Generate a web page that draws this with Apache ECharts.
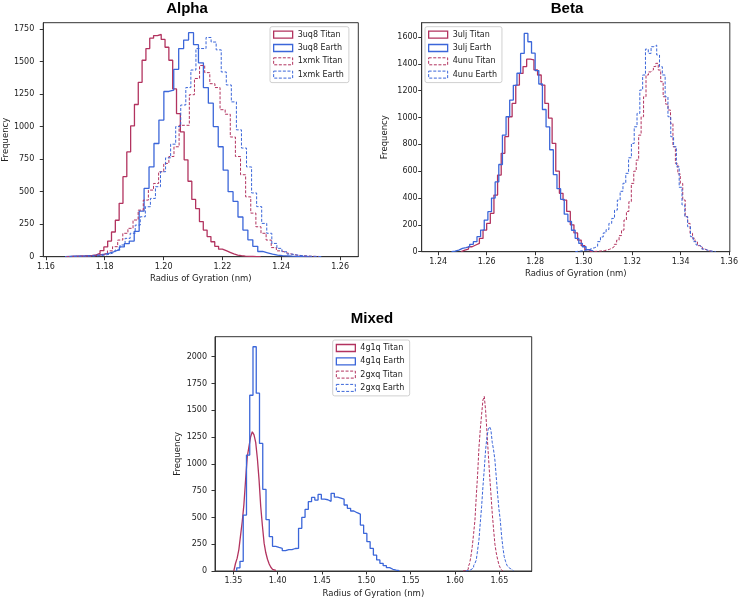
<!DOCTYPE html>
<html>
<head>
<meta charset="utf-8">
<script src="https://cdn.jsdelivr.net/npm/echarts@6/dist/echarts.min.js"></script>
<style>
  html, body { margin: 0; padding: 0; background: #fff; }
  #chart { width: 741px; height: 600px; }
</style>
</head>
<body>
<div id="chart"></div>
<script>
// histogram counts, one value per bin; ranges are [first edge, last edge]
// --- Alpha ---
const uq8TitanRange = [1.168, 1.233];
const uq8TitanCounts = [2, 3, 4, 5, 7, 10, 14, 25, 46, 75, 120, 190, 280, 410, 615, 805, 1005, 1170, 1340, 1510,
  1600, 1680, 1700, 1708, 1670, 1610, 1510, 1290, 1100, 960, 745, 580, 440, 370, 270, 205, 155, 115, 80, 58,
  46, 34, 22, 12, 8, 5, 3, 2, 1, 1];
const uq8EarthRange = [1.1665, 1.2505];
const uq8EarthCounts = [3, 4, 5, 6, 8, 10, 14, 20, 28, 40, 55, 75, 100, 120, 195, 350, 525, 690, 870, 1050,
  1270, 1280, 1440, 1600, 1665, 1722, 1630, 1490, 1300, 1180, 1000, 845, 665, 500, 425, 305, 205, 130, 80, 40,
  30, 20, 12, 8, 6, 4, 3, 2, 1, 1];
const xmkTitanRange = [1.167, 1.254];
const xmkTitanCounts = [2, 3, 4, 5, 7, 10, 15, 25, 45, 77, 128, 180, 218, 282, 358, 435, 512, 563, 653, 717,
  770, 845, 1010, 1010, 1245, 1370, 1470, 1415, 1330, 1300, 1130, 1095, 920, 770, 630, 460, 335, 230, 180, 128,
  70, 45, 30, 20, 12, 8, 5, 3, 2, 1];
const xmkEarthRange = [1.168, 1.254];
const xmkEarthCounts = [2, 3, 3, 4, 5, 8, 12, 20, 35, 51, 90, 141, 180, 243, 307, 384, 448, 538, 653, 760,
  865, 1000, 1166, 1300, 1435, 1600, 1600, 1685, 1650, 1590, 1420, 1320, 1190, 975, 835, 690, 490, 385, 256, 180,
  102, 64, 38, 20, 13, 8, 5, 3, 2, 1];
// --- Beta ---
const uljTitanRange = [1.2495, 1.3035];
const uljTitanCounts = [12, 20, 37, 50, 62, 99, 161, 211, 286, 422, 571, 733, 857, 1006, 1105, 1242, 1329, 1380,
  1435, 1430, 1355, 1317, 1242, 1105, 995, 808, 600, 435, 385, 300, 200, 140, 87, 45, 15, 5];
const uljEarthRange = [1.2455, 1.304];
const uljEarthCounts = [5, 12, 25, 30, 37, 55, 75, 112, 161, 236, 298, 400, 520, 650, 869, 1006, 1130, 1240, 1330,
  1478, 1627, 1565, 1480, 1350, 1250, 1060, 930, 760, 575, 470, 390, 280, 225, 160, 100, 62, 37, 15, 5];
const unuTitanRange = [1.3025, 1.353];
const unuTitanCounts = [1, 2, 3, 4, 6, 8, 12, 17, 25, 37, 55, 86, 120, 161, 236, 300, 373, 509, 600, 683,
  869, 1006, 1155, 1317, 1340, 1354, 1380, 1404, 1354, 1267, 1155, 1100, 1056, 956, 782, 658, 580, 509, 385, 261,
  211, 137, 100, 75, 45, 37, 20, 12, 6, 3];
const unuEarthRange = [1.2965, 1.3545];
const unuEarthCounts = [3, 5, 8, 12, 15, 25, 30, 40, 75, 110, 140, 165, 211, 248, 310, 385, 450, 510, 584, 700,
  807, 931, 1031, 1205, 1317, 1510, 1478, 1528, 1540, 1466, 1379, 1317, 1155, 1006, 857, 782, 633, 480, 348, 261,
  186, 112, 75, 50, 37, 20, 12, 6, 3, 1];
// --- Mixed ---
const g1qTitanRange = [1.3505, 1.398];
const g1qTitanCounts = [15, 70, 120, 200, 330, 460, 620, 850, 1067, 1160, 1253, 1300, 1270, 1200, 1050, 850, 600,
  420, 260, 170, 110, 65, 35, 15, 5];
const g1qEarthRange = [1.3538, 1.5373];
const g1qEarthCounts = [30, 90, 522, 1082, 1640, 2093, 1660, 1191, 762, 480, 320, 230, 220, 211, 190, 200, 200, 210,
  211, 398, 501, 575, 647, 687, 662, 715, 670, 665, 650, 725, 690, 680, 670, 616, 585, 560, 544, 530, 429, 351,
  274, 211, 149, 103, 72, 50, 31, 16, 8, 3];
const gxqTitanRange = [1.609, 1.654];
const gxqTitanCounts = [2, 4, 8, 16, 40, 72, 140, 230, 350, 476, 700, 900, 1150, 1320, 1460, 1595, 1630, 1500, 1300,
  1100, 900, 720, 540, 390, 250, 170, 110, 60, 30, 10];
const gxqEarthRange = [1.612, 1.666];
const gxqEarthCounts = [2, 4, 8, 12, 20, 30, 50, 72, 103, 196, 290, 450, 600, 787, 950, 1130, 1250, 1320, 1347, 1316,
  1200, 1130, 1036, 880, 720, 580, 480, 330, 220, 134, 90, 55, 35, 20, 9, 3];

// axis tick labels
const alphaXTicks = [1.16, 1.18, 1.20, 1.22, 1.24, 1.26];
const alphaYTicks = [0, 250, 500, 750, 1000, 1250, 1500, 1750];
const betaXTicks = [1.24, 1.26, 1.28, 1.30, 1.32, 1.34, 1.36];
const betaYTicks = [0, 200, 400, 600, 800, 1000, 1200, 1400, 1600];
const mixedXTicks = [1.35, 1.40, 1.45, 1.50, 1.55, 1.60, 1.65];
const mixedYTicks = [0, 250, 500, 750, 1000, 1250, 1500, 1750, 2000];

const TITAN = '#b2335f';
const EARTH = '#3b66d9';
const FONT = '"DejaVu Sans", sans-serif';

// turn bin counts into step outline points (like histtype='step')
function histPoints(range, counts) {
    const w = (range[1] - range[0]) / counts.length;
    const pts = [[range[0], 0]];
    counts.forEach((c, i) => pts.push([range[0] + i * w, c]));
    pts.push([range[1], 0]);
    return pts;
}

function xAxisCfg(gridIndex, min, max, ticks) {
    return {
        gridIndex, type: 'value', min, max,
        name: 'Radius of Gyration (nm)', nameLocation: 'middle', nameGap: 18,
        nameTextStyle: { fontSize: 8.5, color: '#222', fontFamily: FONT },
        axisLine: { show: true, lineStyle: { color: '#333', width: 1 } },
        axisTick: { show: true, inside: false, length: 3.5, customValues: ticks, lineStyle: { color: '#333' } },
        axisLabel: { customValues: ticks, formatter: v => v.toFixed(2), fontSize: 8, color: '#222', fontFamily: FONT, margin: 6 },
        splitLine: { show: false },
    };
}

function yAxisCfg(gridIndex, max, ticks, labelMargin, nameGap) {
    return {
        gridIndex, type: 'value', min: 0, max,
        name: 'Frequency', nameLocation: 'middle', nameGap,
        nameTextStyle: { fontSize: 8.5, color: '#222', fontFamily: FONT },
        axisLine: { show: true, lineStyle: { color: '#333', width: 1 } },
        axisTick: { show: true, inside: false, length: 3.5, customValues: ticks, lineStyle: { color: '#333' } },
        axisLabel: { customValues: ticks, formatter: v => String(Math.round(v)), fontSize: 8, color: '#222', fontFamily: FONT, margin: labelMargin },
        splitLine: { show: false },
    };
}

function histSeries(name, idx, range, counts, color, dashed) {
    return {
        name, type: 'line', step: 'end',
        xAxisIndex: idx, yAxisIndex: idx,
        symbol: 'none', showSymbol: false,
        lineStyle: { color, width: dashed ? 1 : 1.3, type: dashed ? [3, 1.6] : 'solid' },
        itemStyle: { color },
        data: histPoints(range, counts),
    };
}

function legendItem(name, color, dashed) {
    return {
        name, icon: 'rect',
        itemStyle: { color: 'rgba(0,0,0,0)', borderColor: color, borderWidth: dashed ? 1 : 1.3, borderType: dashed ? [3, 1.6] : 'solid' },
    };
}

function legendCfg(left, top, items) {
    return {
        orient: 'vertical', left, top,
        itemWidth: 19, itemHeight: 7, itemGap: 3.3,
        padding: [3, 5, 3, 3],
        backgroundColor: 'rgba(255,255,255,0.8)',
        borderColor: '#d0d0d0', borderWidth: 1, borderRadius: 2,
        textStyle: { fontSize: 8, color: '#222', fontFamily: FONT, lineHeight: 10 },
        selectedMode: false,
        data: items,
    };
}

const titleStyle = { fontSize: 15, fontWeight: 'bold', color: '#000', fontFamily: '"Liberation Sans", Arial, sans-serif' };

const myChart = echarts.init(document.getElementById('chart'), null, { renderer: 'canvas' });
myChart.setOption({
    animation: false,
    backgroundColor: '#fff',
    title: [
        { text: 'Alpha', left: 187, top: 1, textAlign: 'center', padding: 0, textStyle: titleStyle },
        { text: 'Beta', left: 567, top: 1, textAlign: 'center', padding: 0, textStyle: titleStyle },
        { text: 'Mixed', left: 372, top: 311, textAlign: 'center', padding: 0, textStyle: titleStyle },
    ],
    grid: [
        { left: 41.7, top: 22.7, width: 316.6, height: 234, show: true, borderColor: '#333', borderWidth: 1, backgroundColor: 'transparent' },
        { left: 421.7, top: 22.7, width: 308.3, height: 229, show: true, borderColor: '#333', borderWidth: 1, backgroundColor: 'transparent' },
        { left: 215, top: 336.7, width: 316.7, height: 234.3, show: true, borderColor: '#333', borderWidth: 1, backgroundColor: 'transparent' },
    ],
    xAxis: [
        xAxisCfg(0, 1.1591, 1.2662, alphaXTicks),
        xAxisCfg(1, 1.2332, 1.3603, betaXTicks),
        xAxisCfg(2, 1.3293, 1.6865, mixedXTicks),
    ],
    yAxis: [
        yAxisCfg(0, 1798.7, alphaYTicks, 9, 32),
        yAxisCfg(1, 1706.8, betaYTicks, 4, 32),
        yAxisCfg(2, 2186.6, mixedYTicks, 8, 30),
    ],
    legend: [
        legendCfg(270, 26.7, [
            legendItem('3uq8 Titan', TITAN, false), legendItem('3uq8 Earth', EARTH, false),
            legendItem('1xmk Titan', TITAN, true), legendItem('1xmk Earth', EARTH, true),
        ]),
        legendCfg(425, 26.7, [
            legendItem('3ulj Titan', TITAN, false), legendItem('3ulj Earth', EARTH, false),
            legendItem('4unu Titan', TITAN, true), legendItem('4unu Earth', EARTH, true),
        ]),
        legendCfg(332.7, 340, [
            legendItem('4g1q Titan', TITAN, false), legendItem('4g1q Earth', EARTH, false),
            legendItem('2gxq Titan', TITAN, true), legendItem('2gxq Earth', EARTH, true),
        ]),
    ],
    series: [
        histSeries('3uq8 Titan', 0, uq8TitanRange, uq8TitanCounts, TITAN, false),
        histSeries('3uq8 Earth', 0, uq8EarthRange, uq8EarthCounts, EARTH, false),
        histSeries('1xmk Titan', 0, xmkTitanRange, xmkTitanCounts, TITAN, true),
        histSeries('1xmk Earth', 0, xmkEarthRange, xmkEarthCounts, EARTH, true),
        histSeries('3ulj Titan', 1, uljTitanRange, uljTitanCounts, TITAN, false),
        histSeries('3ulj Earth', 1, uljEarthRange, uljEarthCounts, EARTH, false),
        histSeries('4unu Titan', 1, unuTitanRange, unuTitanCounts, TITAN, true),
        histSeries('4unu Earth', 1, unuEarthRange, unuEarthCounts, EARTH, true),
        histSeries('4g1q Titan', 2, g1qTitanRange, g1qTitanCounts, TITAN, false),
        histSeries('4g1q Earth', 2, g1qEarthRange, g1qEarthCounts, EARTH, false),
        histSeries('2gxq Titan', 2, gxqTitanRange, gxqTitanCounts, TITAN, true),
        histSeries('2gxq Earth', 2, gxqEarthRange, gxqEarthCounts, EARTH, true),
    ],
});
</script>
</body>
</html>
